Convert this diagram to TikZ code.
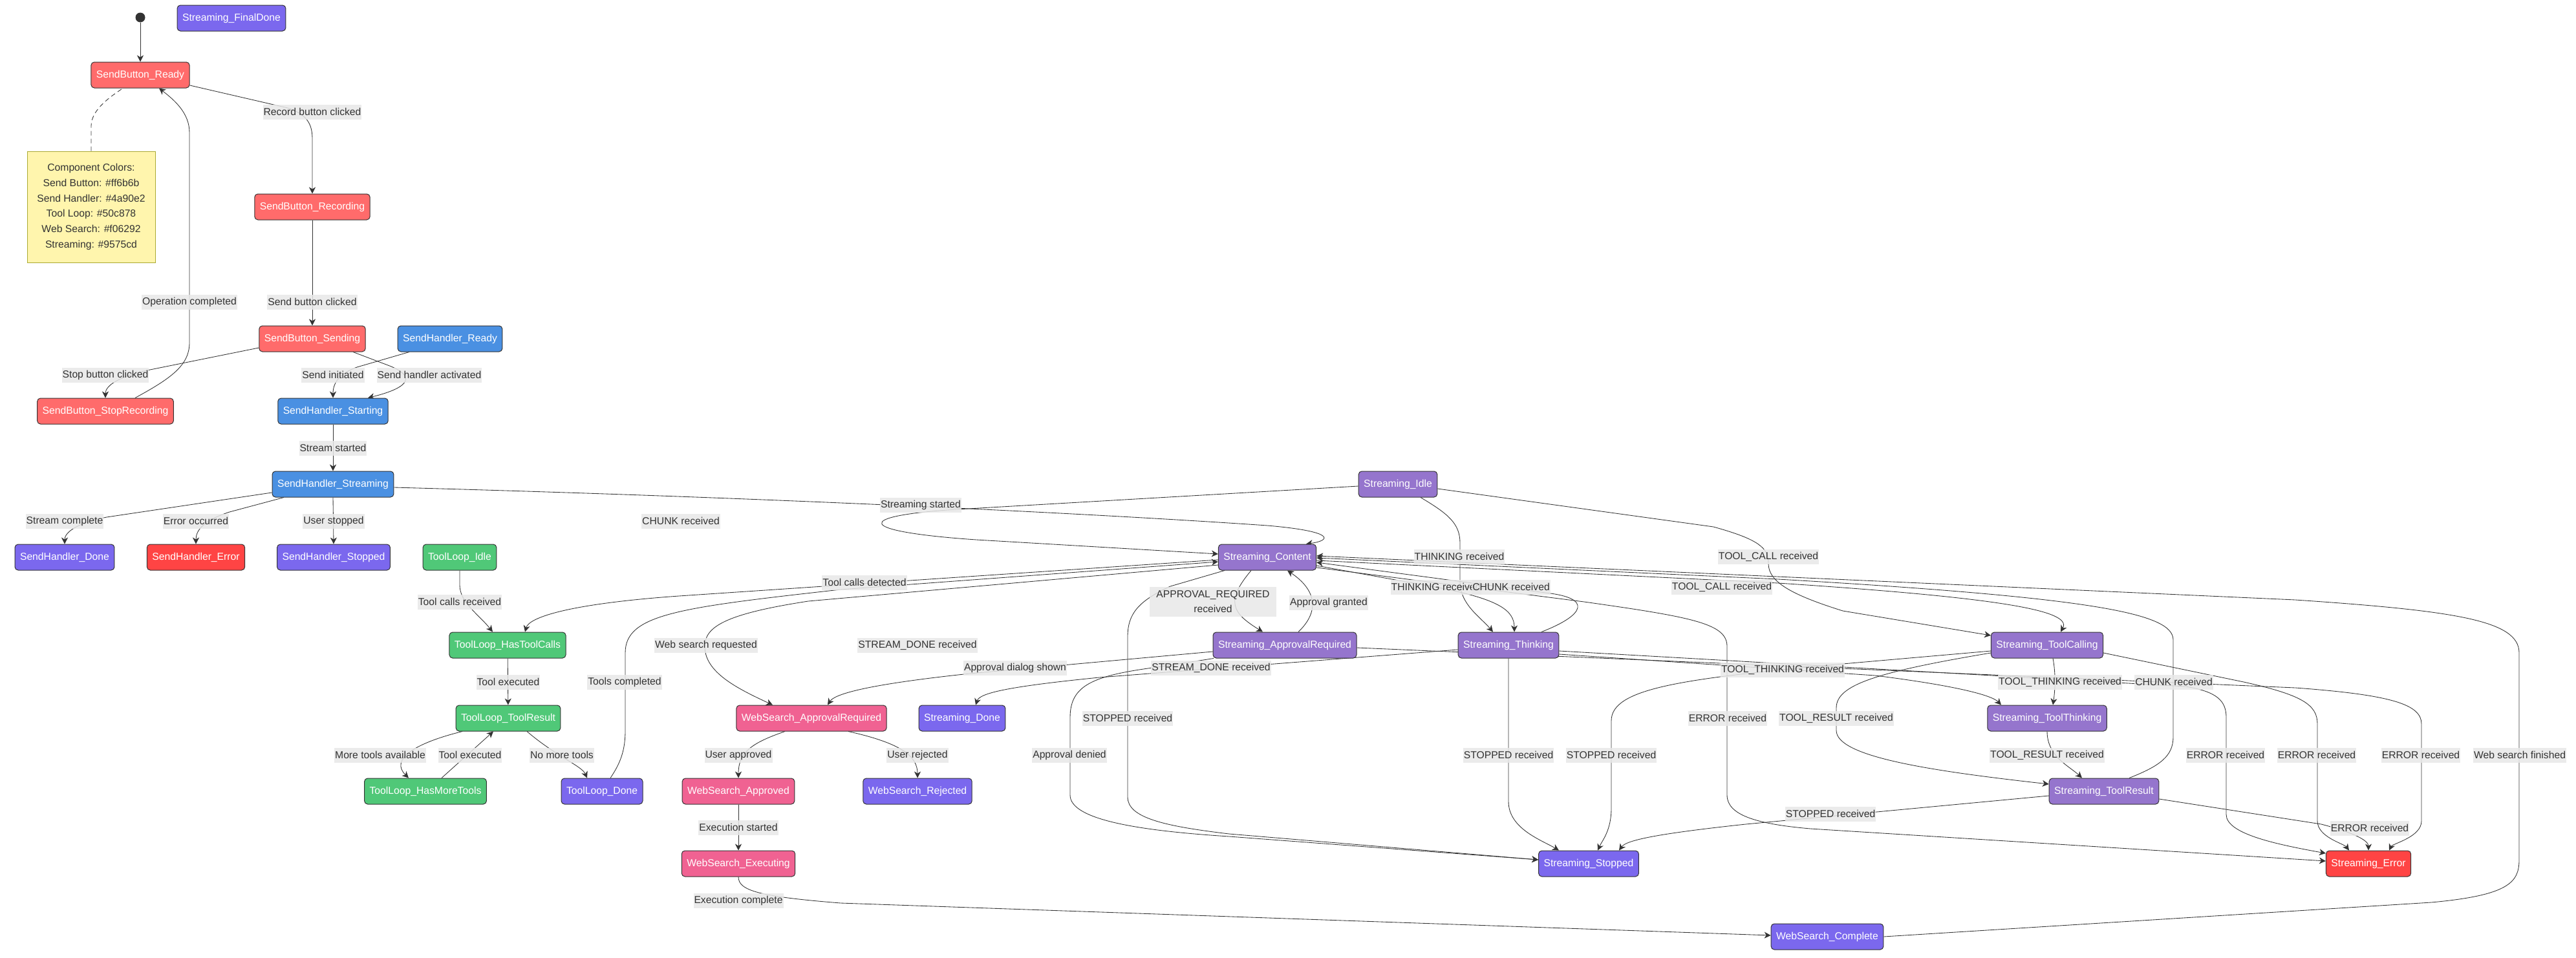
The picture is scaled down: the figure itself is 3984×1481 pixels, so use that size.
\documentclass[tikz,border=0pt]{standalone}
\usepackage{fontspec}
\setmainfont{Liberation Sans}
\usetikzlibrary{arrows.meta}

\definecolor{sendbtn}{HTML}{FF6B6B}
\definecolor{sendhnd}{HTML}{4A90E2}
\definecolor{toolloop}{HTML}{50C878}
\definecolor{websrch}{HTML}{F06292}
\definecolor{streamc}{HTML}{9575CD}
\definecolor{donec}{HTML}{7B68EE}
\definecolor{errc}{HTML}{FF4444}
\definecolor{notefill}{HTML}{FFF5AD}
\definecolor{noteline}{HTML}{AAAA33}
\definecolor{lblbg}{HTML}{E8E8E8}
\definecolor{ink}{HTML}{333333}

\pgfdeclarelayer{paper}
\pgfdeclarelayer{edges}
\pgfsetlayers{paper,edges,main}

\tikzset{
  state/.style={rectangle, rounded corners=5pt, draw=ink, line width=1pt,
    text=white, minimum height=40pt, inner xsep=8pt, inner ysep=0pt,
    font=\fontsize{15.7}{18}\selectfont},
  sbtn/.style={state, fill=sendbtn},
  shnd/.style={state, fill=sendhnd},
  tool/.style={state, fill=toolloop},
  wsrch/.style={state, fill=websrch},
  strm/.style={state, fill=streamc},
  donest/.style={state, fill=donec},
  errst/.style={state, fill=errc},
  startdot/.style={circle, fill=ink, minimum size=15pt, inner sep=0pt},
  legendbox/.style={rectangle, fill=notefill, draw=noteline, line width=1pt,
    minimum width=198pt, minimum height=172pt, align=center, text=ink,
    font=\fontsize{15.7}{23.8}\selectfont},
  lbl/.style={fill=lblbg, fill opacity=0.85, text opacity=1, text=ink,
    inner xsep=1pt, inner ysep=0pt, minimum height=23pt,
    font=\fontsize{15.7}{18}\selectfont},
  tr/.style={draw=ink, line width=0.85pt, -{Stealth[length=10pt,width=10pt,inset=3pt]}},
  notelink/.style={draw=ink, line width=0.85pt, dash pattern=on 7pt off 5pt},
}

\begin{document}
\begin{tikzpicture}[x=1pt,y=-1pt]
\begin{pgfonlayer}{paper}
\fill[white] (0,0) rectangle (3984,1481);
\end{pgfonlayer}
\useasboundingbox (0,0) rectangle (3984,1481);

% send button
\node[startdot] (init) at (217,27) {};
\node[donest] (stFinal) at (358,28) {Streaming\_FinalDone};
\node[sbtn] (sbReady) at (217,116) {SendButton\_Ready};
\node[sbtn] (sbRec) at (483,320) {SendButton\_Recording};
\node[sbtn] (sbSend) at (483,524) {SendButton\_Sending};
\node[sbtn] (sbStop) at (163,636) {SendButton\_StopRecording};
\node[legendbox] (legend) at (141,320) {Component Colors:\\Send Button: \#ff6b6b\\Send Handler: \#4a90e2\\Tool Loop: \#50c878\\Web Search: \#f06292\\Streaming: \#9575cd};

% send handler
\node[shnd] (shReady) at (696,524) {SendHandler\_Ready};
\node[shnd] (shStart) at (515,636) {SendHandler\_Starting};
\node[shnd] (shStream) at (515,749) {SendHandler\_Streaming};
\node[donest] (shDone) at (100,862) {SendHandler\_Done};
\node[errst] (shErr) at (303,862) {SendHandler\_Error};
\node[donest] (shStop) at (516,862) {SendHandler\_Stopped};

% tool loop
\node[tool] (tlIdle) at (711,862) {ToolLoop\_Idle};
\node[tool] (tlHas) at (785,998) {ToolLoop\_HasToolCalls};
\node[tool] (tlRes) at (786,1111) {ToolLoop\_ToolResult};
\node[tool] (tlMore) at (658,1224) {ToolLoop\_HasMoreTools};
\node[donest] (tlDone) at (931,1224) {ToolLoop\_Done};

% web search
\node[wsrch] (wsReq) at (1255,1111) {WebSearch\_ApprovalRequired};
\node[wsrch] (wsAppr) at (1142,1224) {WebSearch\_Approved};
\node[donest] (wsRej) at (1419,1224) {WebSearch\_Rejected};
\node[wsrch] (wsExec) at (1142,1336) {WebSearch\_Executing};
\node[donest] (wsComp) at (2826,1449) {WebSearch\_Complete};

% streaming
\node[strm] (stIdle) at (2162,749) {Streaming\_Idle};
\node[strm] (stCont) at (1960,862) {Streaming\_Content};
\node[strm] (stAppr) at (1987,998) {Streaming\_ApprovalRequired};
\node[strm] (stThink) at (2333,998) {Streaming\_Thinking};
\node[donest] (stDone) at (1488,1111) {Streaming\_Done};
\node[donest] (stStop) at (2457,1336) {Streaming\_Stopped};
\node[strm] (stCall) at (3166,998) {Streaming\_ToolCalling};
\node[strm] (stTThink) at (3166,1111) {Streaming\_ToolThinking};
\node[strm] (stTRes) at (3254,1224) {Streaming\_ToolResult};
\node[errst] (stErr) at (3663,1336) {Streaming\_Error};

\begin{pgfonlayer}{edges}
% send button
\draw[tr] (init) -- (sbReady);
\draw[notelink] (legend.north) -- (141,195) .. controls (141,170) and (170,150) .. ([xshift=-27]sbReady.south);
\draw[tr] ([yshift=-16]sbReady.east) -- (445,167) .. controls (475,177) and (483,192) .. (483,215) -- (sbRec.north);
\draw[tr] (sbRec) -- (sbSend);
\draw[tr] ([yshift=-14]sbSend.west) -- (232,572) .. controls (185,582) and (163,596) .. (sbStop.north);
\draw[tr] ([xshift=46]sbStop.north) .. controls (265,585) and (293,565) .. (293,530) -- (293,205) .. controls (293,175) and (270,155) .. ([xshift=29]sbReady.south);

% send handler
\draw[tr] ([xshift=-63]shReady.south) -- (552,568) .. controls (525,578) and (515,592) .. (shStart.north);
\draw[tr] ([xshift=63]sbSend.south) -- (600,565) .. controls (640,580) and (640,598) .. ([xshift=54]shStart.north);
\draw[tr] (shStart) -- (shStream);
\draw[tr] ([yshift=-13]shStream.west) -- (165,800) .. controls (115,810) and (100,825) .. (shDone.north);
\draw[tr] ([xshift=-76]shStream.south) -- (355,792) .. controls (315,805) and (303,820) .. (shErr.north);
\draw[tr] (shStream.south) -- (shStop.north);
\draw[tr] ([yshift=-5]shStream.east) .. controls (1200,770) and (1700,795) .. (1960,813) .. controls (2065,822) and (2060,836) .. ([xshift=60]stCont.north);

% tool loop
\draw[tr] (tlIdle.south) -- (711,905) .. controls (711,932) and (740,950) .. ([xshift=-23]tlHas.north);
\draw[tr] ([yshift=-4]stCont.west) -- (1050,922) .. controls (880,934) and (818,955) .. ([xshift=27]tlHas.north);
\draw[tr] (tlHas) -- (tlRes);
\draw[tr] ([xshift=-71]tlRes.south) .. controls (640,1150) and (603,1175) .. ([xshift=-26]tlMore.north);
\draw[tr] ([xshift=25]tlMore.north) -- ([xshift=-23]tlRes.south);
\draw[tr] ([xshift=29]tlRes.south) .. controls (860,1170) and (900,1185) .. ([xshift=-23]tlDone.north);
\draw[tr] ([xshift=13]tlDone.north) .. controls (960,1180) and (967,1160) .. (967,1130) -- (967,1010) .. controls (967,950) and (1050,940) .. (1300,912) -- ([yshift=-7]stCont.west);

% web search
\draw[tr] ([yshift=-12]stCont.west) -- (1250,930) .. controls (1120,950) and (1090,970) .. (1090,1000) .. controls (1090,1040) and (1140,1065) .. ([xshift=-60]wsReq.north);
\draw[tr] ([yshift=-10]stAppr.west) -- (1500,1042) .. controls (1330,1060) and (1290,1075) .. ([xshift=25]wsReq.north);
\draw[tr] ([xshift=-41]wsReq.south) .. controls (1160,1150) and (1142,1165) .. (wsAppr.north);
\draw[tr] ([xshift=57]wsReq.south) .. controls (1395,1150) and (1419,1170) .. (wsRej.north);
\draw[tr] (wsAppr) -- (wsExec);
\draw[tr] (wsExec.south) .. controls (1142,1378) and (1175,1387) .. (1300,1397) -- ([yshift=2]wsComp.west);
\draw[tr] (wsComp.east) -- (3760,1396) .. controls (3880,1385) and (3896,1365) .. (3896,1330) -- (3896,1010) .. controls (3896,960) and (3800,945) .. (3550,928) -- ([yshift=2]stCont.east);

% streaming
\draw[tr] ([yshift=-3]stIdle.west) -- (1480,788) .. controls (1320,798) and (1320,822) .. (1510,835) -- ([yshift=5]stCont.west);
\draw[tr] ([xshift=51]stThink.north) .. controls (2450,952) and (2465,925) .. (2390,917) -- ([yshift=-8]stCont.east);
\draw[tr] ([yshift=-13]stCont.east) -- (2230,910) .. controls (2320,928) and (2342,945) .. ([xshift=9]stThink.north);
\draw[tr] ([xshift=35]stIdle.south) .. controls (2240,795) and (2258,810) .. (2258,840) -- (2258,900) .. controls (2258,935) and (2290,955) .. ([xshift=-24]stThink.north);
\draw[tr] ([yshift=-7]stIdle.east) -- (2650,815) .. controls (2722,835) and (2735,848) .. (2735,872) .. controls (2735,900) and (2770,920) .. (2850,945) -- ([yshift=15]stCall.west);
\draw[tr] ([yshift=-5]stCont.east) -- (2750,902) .. controls (3100,925) and (3205,945) .. ([xshift=21]stCall.north);
\draw[tr] ([xshift=39]stTRes.north) .. controls (3340,1185) and (3361,1170) .. (3361,1140) -- (3361,990) .. controls (3361,950) and (3250,925) .. (2750,896) -- ([yshift=-1]stCont.east);
\draw[tr] ([yshift=-16]stCont.east) -- (2450,931) .. controls (2620,955) and (2671,965) .. (2671,1000) -- (2671,1230) .. controls (2671,1262) and (2720,1275) .. (2800,1282) -- ([yshift=4]stErr.west);
\draw[tr] ([xshift=-25]stCont.south) .. controls (1895,930) and (1905,948) .. ([xshift=-34]stAppr.north);
\draw[tr] ([xshift=21]stAppr.north) .. controls (2042,945) and (2035,912) .. ([xshift=31]stCont.south);
\draw[tr] ([xshift=-66]stCont.south) -- (1810,907) .. controls (1760,930) and (1744,950) .. (1744,985) -- (1744,1233) .. controls (1744,1265) and (1800,1278) .. (1901,1290) -- ([yshift=6]stStop.west);
\draw[tr] ([xshift=-110]stAppr.south) -- (1790,1032) .. controls (1690,1045) and (1655,1060) .. (1655,1110) -- (1655,1230) .. controls (1655,1268) and (1760,1285) .. (1901,1294) -- ([yshift=6]stStop.west);
\draw[tr] ([yshift=-7]stThink.west) -- (1700,1048) .. controls (1560,1062) and (1515,1072) .. ([xshift=21]stDone.north);
\draw[tr] ([yshift=-4]stAppr.east) -- (3550,1064) .. controls (3700,1075) and (3745,1090) .. (3745,1120) -- (3745,1270) .. controls (3745,1295) and (3700,1305) .. ([xshift=32]stErr.north);
\draw[tr] ([yshift=-9]stThink.east) -- (3380,1062) .. controls (3430,1070) and (3443,1085) .. (3443,1110) -- (3443,1260) .. controls (3443,1290) and (3520,1306) .. ([yshift=16]stErr.west);
\draw[tr] ([yshift=-14]stThink.east) -- (2900,1045) .. controls (3020,1060) and (3080,1075) .. ([xshift=-71]stTThink.north);
\draw[tr] (stThink.south) -- (2333,1240) .. controls (2333,1282) and (2385,1300) .. ([xshift=-46]stStop.north);
\draw[tr] ([yshift=-9]stCall.west) -- (2850,1027) .. controls (2600,1050) and (2492,1065) .. (2492,1115) -- (2492,1250) .. controls (2492,1285) and (2478,1300) .. ([xshift=14]stStop.north);
\draw[tr] ([yshift=-7]stTRes.west) -- (2700,1275) .. controls (2560,1290) and (2515,1300) .. ([xshift=47]stStop.north);
\draw[tr] ([yshift=-12]stCall.west) .. controls (2900,1040) and (2840,1060) .. (2840,1095) -- (2840,1130) .. controls (2840,1170) and (2980,1192) .. ([yshift=11]stTRes.west);
\draw[tr] ([xshift=9]stCall.south) .. controls (3180,1045) and (3178,1070) .. ([xshift=9]stTThink.north);
\draw[tr] (stTThink.south) .. controls (3166,1170) and (3200,1185) .. ([xshift=-34]stTRes.north);
\draw[tr] ([yshift=-12]stCall.east) -- (3470,1055) .. controls (3560,1075) and (3584,1090) .. (3584,1120) -- (3584,1270) .. controls (3584,1295) and (3625,1305) .. ([xshift=-30]stErr.north);
\draw[tr] ([yshift=-12]stTRes.east) -- (3590,1275) .. controls (3640,1288) and (3663,1300) .. (stErr.north);
\end{pgfonlayer}

% labels
\node[lbl] (lRecord) at (483,173) {Record button clicked};
\node[lbl] (lOpDone) at (293,467) {Operation completed};
\node[lbl] (lSendClk) at (483,467) {Send button clicked};
\node[lbl] (lStopClk) at (163,580) {Stop button clicked};
\node[lbl] (lSendInit) at (515,580) {Send initiated};
\node[lbl] (lHndAct) at (664,580) {Send handler activated};
\node[lbl] (lStrStart) at (515,693) {Stream started};
\node[lbl] (lStrDone) at (100,806) {Stream complete};
\node[lbl] (lErrOcc) at (303,806) {Error occurred};
\node[lbl] (lUsrStop) at (516,806) {User stopped};
\node[lbl] (lChunkA) at (1053,806) {CHUNK received};
\node[lbl] (lStreamStart) at (1424,781) {Streaming started};
\node[lbl] (lToolRecv) at (711,931) {Tool calls received};
\node[lbl] (lToolDet) at (1337,901) {Tool calls detected};
\node[lbl] (lToolExecA) at (786,1055) {Tool executed};
\node[lbl] (lToolsDone) at (966,1055) {Tools completed};
\node[lbl] (lWebReq) at (1092,998) {Web search requested};
\node[lbl] (lSDoneA) at (1419,998) {STREAM\_DONE received};
\node[lbl] (lDialog) at (1570,1033) {Approval dialog shown};
\node[lbl] (lSDoneB) at (1873,1033) {STREAM\_DONE received};
\node[lbl, minimum width=196pt, minimum height=46pt, align=center,
  font=\fontsize{15.7}{23}\selectfont] (lApprReq) at (1876,931) {APPROVAL\_REQUIRED\\received};
\node[lbl] (lGranted) at (2055,932) {Approval granted};
\node[lbl] (lThinkA) at (2257,861) {THINKING received};
\node[lbl] (lCallA) at (2735,861) {TOOL\_CALL received};
\node[lbl] (lThinkB) at (2221,908) {THINKING received};
\node[lbl] (lChunkB) at (2337,908) {CHUNK received};
\node[lbl] (lCallB) at (2663,908) {TOOL\_CALL received};
\node[lbl] (lTThinkA) at (2757,1036) {TOOL\_THINKING received};
\node[lbl] (lMoreTools) at (588,1168) {More tools available};
\node[lbl] (lToolExecB) at (727,1168) {Tool executed};
\node[lbl] (lNoMore) at (869,1168) {No more tools};
\node[lbl] (lUsrAppr) at (1142,1168) {User approved};
\node[lbl] (lUsrRej) at (1419,1168) {User rejected};
\node[lbl] (lDenied) at (1654,1168) {Approval denied};
\node[lbl] (lStopA) at (1744,1111) {STOPPED received};
\node[lbl] (lErrA) at (2672,1111) {ERROR received};
\node[lbl] (lTResA) at (2840,1111) {TOOL\_RESULT received};
\node[lbl] (lStopB) at (2333,1168) {STOPPED received};
\node[lbl] (lStopC) at (2492,1168) {STOPPED received};
\node[lbl] (lTThinkB) at (3186,1055) {TOOL\_THINKING received};
\node[lbl] (lChunkC) at (3362,1055) {CHUNK received};
\node[lbl] (lTResB) at (3166,1168) {TOOL\_RESULT received};
\node[lbl] (lErrB) at (3442,1168) {ERROR received};
\node[lbl] (lErrC) at (3583,1168) {ERROR received};
\node[lbl] (lErrD) at (3744,1168) {ERROR received};
\node[lbl] (lWebDone) at (3897,1168) {Web search finished};
\node[lbl] (lStopD) at (2831,1259) {STOPPED received};
\node[lbl] (lErrE) at (3665,1281) {ERROR received};
\node[lbl] (lExecStart) at (1142,1280) {Execution started};
\node[lbl] (lExecDone) at (1142,1393) {Execution complete};
\end{tikzpicture}
\end{document}
